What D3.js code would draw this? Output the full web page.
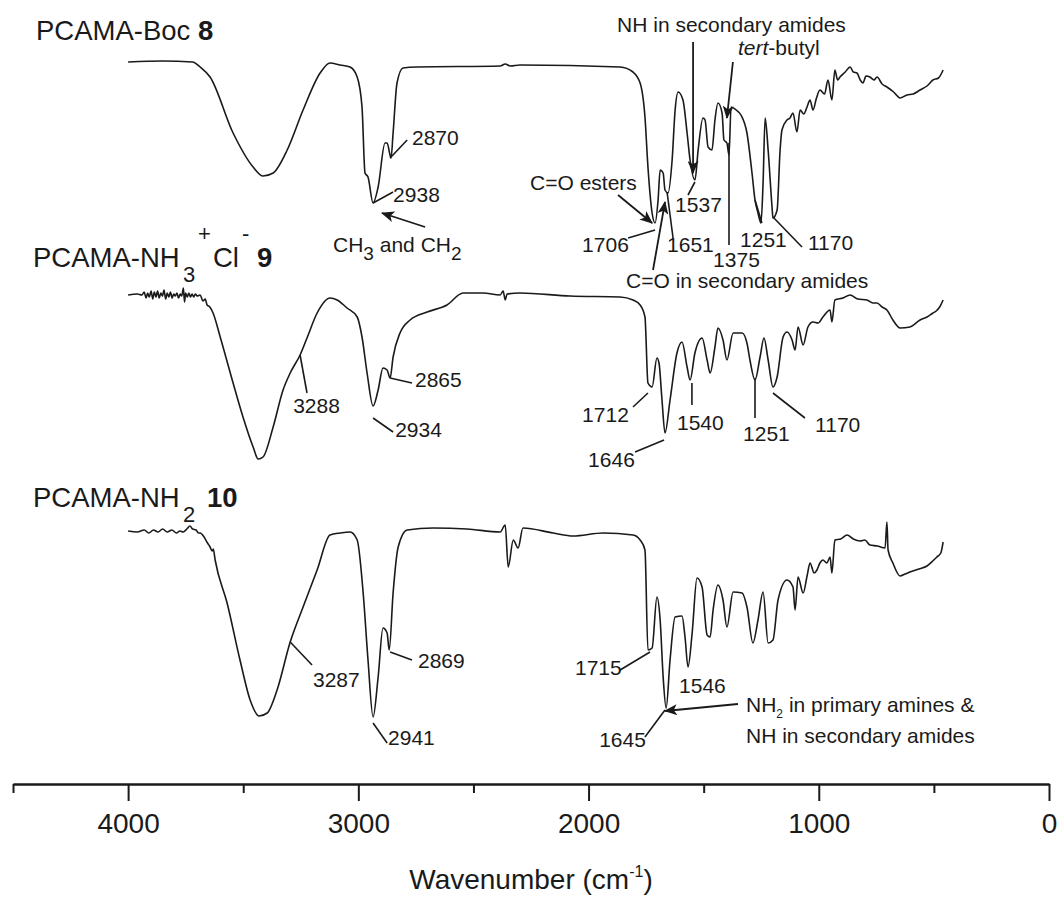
<!DOCTYPE html>
<html>
<head>
<meta charset="utf-8">
<script src="https://cdnjs.cloudflare.com/ajax/libs/d3/7.8.5/d3.min.js"></script>
<style>
  body { margin: 0; background: #fff; }
  text { font-family: "Liberation Sans", Arial, sans-serif; fill: #1a1a1a; }
</style>
</head>
<body>
<div id="chart"></div>
<script>
'use strict';

// spectra: [wavenumber (cm-1), transmittance (a.u.)]
const bocSpectrum = [
  [4000,89],[3850,89.5],[3720,89],[3687,86.5],[3644,81.5],[3544,53.5],[3457,36.5],[3414,32],
  [3370,33.5],[3309,45],[3240,65],[3166,83.5],[3123,88.5],[3079,87.5],[3036,86.5],[3005,81.5],
  [2984,66.5],[2971,33.5],[2958,31.5],[2936,18.5],[2914,26.5],[2884,48.5],[2875,48.5],[2858,41],
  [2849,53.5],[2832,78.5],[2806,86],[2745,86.5],[2384,87],[2362,88],[2340,87],[2298,87.5],
  [1863,86.5],[1807,84],[1776,78.5],[1755,61.5],[1742,36.5],[1724,13.5],[1711,8.5],[1698,20],
  [1689,35],[1676,33.5],[1668,25],[1655,23.5],[1637,40],[1624,65],[1611,74],[1590,70],
  [1572,53.5],[1559,40],[1538,30],[1524,45],[1503,61],[1494,60],[1481,46.5],[1464,45],
  [1451,60],[1438,68.5],[1420,63.5],[1412,50],[1399,48.5],[1390,42.5],[1381,66.5],[1359,65],
  [1338,62.5],[1312,53.5],[1290,33.5],[1277,20],[1264,13.5],[1251,8.5],[1242,28.5],[1233,61],
  [1220,45],[1203,16.5],[1199,11],[1181,15],[1168,45],[1160,55],[1138,60],[1125,61],[1112,63.5],
  [1095,54],[1081,65],[1065,63],[1051,66.5],[1038,70],[1025,65],[1010,71],[995,75],[975,73],
  [960,80],[943,70],[930,85],[918,80],[908,81.5],[885,84],[864,86.5],[850,84],[834,83.5],
  [820,80],[808,78.5],[795,82],[778,81.5],[760,80],[747,81.5],[725,78],[704,76.5],[675,74],
  [647,71],[617,72.5],[590,73],[560,75],[530,77],[504,80],[480,81],[460,85]
];

const nh3Spectrum = [
  [4000,90],[3960,90.5],[3940,90],[3930,91.5],[3922,88.5],[3915,91],[3908,89],[3900,92],
  [3893,88],[3886,91.5],[3879,89],[3872,92],[3865,88.5],[3858,91],[3851,89.5],[3844,92.5],
  [3837,88],[3830,91],[3823,89],[3816,91.5],[3809,88.5],[3802,90.5],[3795,89.5],[3788,91],
  [3781,88.5],[3774,90.5],[3767,89.5],[3760,93.5],[3755,86.5],[3750,91],[3743,89],[3736,91],
  [3729,89],[3722,90.5],[3715,89],[3708,90.5],[3700,89.5],[3687,90],[3675,87],[3665,88],
  [3657,85],[3645,84],[3631,81],[3600,69],
  [3544,46],[3501,29],[3457,14],[3435,8],[3414,9],[3370,24],[3327,42.5],[3296,51],[3253,60],
  [3223,68.5],[3179,81],[3123,88.5],[3092,87.5],[3049,83.5],[3005,79],[2984,69],[2962,51],
  [2936,34.5],[2914,42.5],[2893,53.5],[2875,52.5],[2862,48.5],[2849,59],[2819,71],[2775,77.5],
  [2701,81.5],[2615,85],[2545,91],[2458,91],[2384,90],[2371,92],[2362,87.5],[2354,90.5],
  [2298,91],[2080,89.5],[1863,89],[1807,87.5],[1776,85],[1755,79],[1742,46],[1724,44],
  [1703,58.5],[1694,56],[1681,37.5],[1668,21],[1646,37.5],[1616,61],[1594,66.5],[1572,54],
  [1559,47.5],[1538,61],[1507,68.5],[1485,57.5],[1472,51],[1451,64],[1438,73.5],[1416,67.5],
  [1399,57.5],[1372,71],[1333,71],[1312,66],[1299,57.5],[1277,47.5],[1255,59],[1238,68.5],
  [1220,57.5],[1199,44],[1181,49],[1155,69],[1138,71.5],[1116,67.5],[1103,62.5],[1090,74],
  [1068,65],[1047,74],[1025,76.5],[1003,76],[982,79],[951,82.5],[943,76.5],[930,87.5],
  [895,88.5],[864,90],[830,88],[791,87.5],[765,86],[747,86],[725,84],[704,82.5],[678,77.5],
  [647,73.5],[604,74],[560,77.5],[530,79],[504,81],[490,82],[475,84],[460,87.5]
];

const nh2Spectrum = [
  [4000,102],[3960,101.5],[3930,102.5],[3910,101],[3890,102.5],[3870,101.5],[3850,103],
  [3830,101.5],[3810,102.5],[3790,101],[3775,102],[3761,101.5],[3745,103],[3731,104.5],
  [3720,103],[3705,102.5],[3695,101],[3687,101],[3670,99],[3655,96],[3644,94],[3635,92],
  [3630,93],[3622,87.5],[3570,66],[3514,37.5],[3470,17.5],[3431,9.5],[3396,11],[3353,22.5],
  [3296,46.5],[3240,64],[3179,82.5],[3123,100],[3079,101],[3036,101.5],[3005,97.5],[2979,71],
  [2958,37.5],[2936,9],[2914,29],[2893,53.5],[2875,51],[2866,42.5],[2849,71],[2827,94],
  [2788,102.5],[2675,103.5],[2528,103],[2384,101.5],[2362,105],[2349,84],[2327,97.5],
  [2306,93.5],[2285,103.5],[2154,101],[2067,99.5],[1937,101],[1807,100],[1776,97.5],
  [1755,92.5],[1742,42.5],[1724,43.5],[1703,69],[1689,57.5],[1676,29],[1663,13.5],[1646,37.5],
  [1624,59],[1594,59.5],[1581,49],[1568,34],[1550,51],[1529,78.5],[1507,74],[1485,50],
  [1472,49],[1459,62.5],[1438,75],[1416,67.5],[1399,54],[1372,71.5],[1333,71],[1312,64],
  [1286,46],[1264,57.5],[1242,71.5],[1220,46],[1199,47.5],[1177,67.5],[1138,77.5],[1112,74],
  [1103,62.5],[1090,79],[1068,71],[1050,80],[1038,86],[1020,81],[1008,82.5],[995,86],[982,87.5],
  [965,86],[951,89],[943,81],[930,97.5],[905,98],[877,100],[850,98],[820,97],[800,97.5],
  [778,95],[745,94.5],[712,93.5],[704,106.5],[699,92.5],[678,86],[647,79.5],[625,80.5],
  [604,81.5],[565,83],[530,84.5],[505,87],[487,89],[470,91],[460,96.5]
];

// peak labels: text start [wn, T], leader line [[wn, T], [wn, T]]
const bocLabels = [
  { text: '2870', at: [2767, 47.5], line: [[2862, 41], [2788, 50]] },
  { text: '2938', at: [2849, 19], line: [[2936, 18.5], [2849, 24]] },
  { text: '1706', at: [2028, -6], line: [[1828, 1], [1711, 5]] },
  { text: '1651', at: [1659, -6], line: [[1633, 1], [1659, 24]] },
  { text: '1537', at: [1624, 14], line: [[1568, 22.5], [1538, 29]] },
  { text: '1375', at: [1459, -13.5], line: [[1390, -2.5], [1390, 48.5]] },
  { text: '1251', at: [1342, -3.5], line: [[1247, 8.5], [1277, 20]] },
  { text: '1170', at: [1047, -5], line: [[1073, -3.5], [1199, 11.5]] }
];
// arrows: tail -> head
const bocArrows = [
  [[2710, 6.5], [2897, 13.5]],
  [[1872, 22.5], [1724, 8.5]],
  [[1720, -15], [1668, 19]],
  [[1546, 99], [1546, 33.5]],
  [[1373, 89], [1399, 61]]
];

const nh3Labels = [
  { text: '3288', at: [3283, 31], line: [[3253, 60], [3223, 41]] },
  { text: '2934', at: [2840, 19], line: [[2936, 28.5], [2849, 21.5]] },
  { text: '2865', at: [2754, 44], line: [[2862, 48.5], [2767, 46]] },
  { text: '1712', at: [2028, 26.5], line: [[1807, 34], [1742, 41]] },
  { text: '1646', at: [2002, 4], line: [[1798, 11.5], [1672, 17.5]] },
  { text: '1540', at: [1616, 22.5], line: [[1551, 46], [1551, 35]] },
  { text: '1251', at: [1329, 17], line: [[1277, 48.5], [1277, 28.5]] },
  { text: '1170', at: [1016, 21.5], line: [[1199, 41], [1060, 28.5]] }
];

const nh2Labels = [
  { text: '3287', at: [3197, 24], line: [[3296, 46.5], [3201, 35]] },
  { text: '2941', at: [2871, -5], line: [[2936, 6], [2875, -4]] },
  { text: '2869', at: [2741, 33.5], line: [[2862, 41.5], [2767, 37.5]] },
  { text: '1715', at: [2059, 30], line: [[1863, 32.5], [1733, 41.5]] },
  { text: '1645', at: [1954, -6], line: [[1755, -1], [1668, 12.5]] },
  { text: '1546', at: [1607, 21], line: null }
];
const nh2Arrows = [
  [[1351, 15.5], [1668, 12]]
];

const majorTicks = [4000, 3000, 2000, 1000, 0];
const minorTicks = [4500, 3500, 2500, 1500, 500];

const width = 1058;
const height = 897;

const svg = d3.select('#chart')
  .append('svg')
  .attr('width', width)
  .attr('height', height);

const ink = '#1a1a1a';

svg.append('defs')
  .append('marker')
  .attr('id', 'head')
  .attr('viewBox', '0 0 12 10')
  .attr('refX', 11)
  .attr('refY', 5)
  .attr('markerUnits', 'userSpaceOnUse')
  .attr('markerWidth', 14)
  .attr('markerHeight', 11)
  .attr('orient', 'auto')
  .append('path')
  .attr('d', 'M0,0 L12,5 L0,10 L3,5 Z')
  .attr('fill', ink);

const x = d3.scaleLinear().domain([4500, 0]).range([13, 1049]);

// one y scale per trace, same transmittance span
const traceBase = [240, 475, 735];
const yScales = traceBase.map(b => d3.scaleLinear().domain([0, 100]).range([b, b - 200]));

const line = (ys) => d3.line()
  .x(d => x(d[0]))
  .y(d => ys(d[1]))
  .curve(d3.curveMonotoneX);

const spectra = [bocSpectrum, nh3Spectrum, nh2Spectrum];
spectra.forEach((s, i) => {
  svg.append('path')
    .datum(s)
    .attr('d', line(yScales[i]))
    .attr('fill', 'none')
    .attr('stroke', ink)
    .attr('stroke-width', 1.6)
    .attr('stroke-linejoin', 'round');
});

function drawLabels(labels, ys) {
  const g = svg.append('g');
  labels.forEach(l => {
    if (l.line) {
      g.append('line')
        .attr('x1', x(l.line[0][0])).attr('y1', ys(l.line[0][1]))
        .attr('x2', x(l.line[1][0])).attr('y2', ys(l.line[1][1]))
        .attr('stroke', ink).attr('stroke-width', 1.6);
    }
    g.append('text')
      .attr('x', x(l.at[0]))
      .attr('y', ys(l.at[1]))
      .attr('font-size', 21)
      .text(l.text);
  });
}

function drawArrows(arrows, ys) {
  arrows.forEach(a => {
    svg.append('line')
      .attr('x1', x(a[0][0])).attr('y1', ys(a[0][1]))
      .attr('x2', x(a[1][0])).attr('y2', ys(a[1][1]))
      .attr('stroke', ink).attr('stroke-width', 1.8)
      .attr('marker-end', 'url(#head)');
  });
}

drawLabels(bocLabels, yScales[0]);
drawLabels(nh3Labels, yScales[1]);
drawLabels(nh2Labels, yScales[2]);
drawArrows(bocArrows, yScales[0]);
drawArrows(nh2Arrows, yScales[2]);

// group assignments
const y0 = yScales[0];
const ch = svg.append('text').attr('x', x(3110)).attr('y', y0(-6)).attr('font-size', 21);
ch.append('tspan').text('CH');
ch.append('tspan').attr('dy', 8).attr('font-size', 19).text('3');
ch.append('tspan').attr('dy', -8).text(' and CH');
ch.append('tspan').attr('dy', 8).attr('font-size', 19).text('2');

svg.append('text').attr('x', x(2254)).attr('y', y0(25)).attr('font-size', 21).text('C=O esters');
svg.append('text').attr('x', x(1837)).attr('y', y0(-24)).attr('font-size', 21).text('C=O in secondary amides');
svg.append('text').attr('x', x(1876)).attr('y', y0(104)).attr('font-size', 21).text('NH in secondary amides');
const tb = svg.append('text').attr('x', x(1351)).attr('y', y0(92.5)).attr('font-size', 21);
tb.append('tspan').attr('font-style', 'italic').text('tert');
tb.append('tspan').text('-butyl');

const y2 = yScales[2];
const nh2 = svg.append('text').attr('x', x(1316)).attr('y', y2(11.5)).attr('font-size', 21);
nh2.append('tspan').text('NH');
nh2.append('tspan').attr('dy', 6).attr('font-size', 12).text('2');
nh2.append('tspan').attr('dy', -6).text(' in primary amines &');
svg.append('text').attr('x', x(1316)).attr('y', y2(-4)).attr('font-size', 21).text('NH in secondary amides');

// trace titles
const t1 = svg.append('text').attr('x', 36).attr('y', 40).attr('font-size', 27.5);
t1.append('tspan').text('PCAMA-Boc ');
t1.append('tspan').attr('font-weight', 'bold').text('8');

const t2 = svg.append('g').attr('font-size', 27.5);
t2.append('text').attr('x', 33).attr('y', 267).text('PCAMA-NH');
t2.append('text').attr('x', 183).attr('y', 282).attr('font-size', 22).text('3');
t2.append('text').attr('x', 198).attr('y', 241).attr('font-size', 22).text('+');
t2.append('text').attr('x', 213).attr('y', 267).text('Cl');
t2.append('text').attr('x', 242).attr('y', 241).attr('font-size', 22).text('-');
t2.append('text').attr('x', 257).attr('y', 267).attr('font-weight', 'bold').text('9');

const t3 = svg.append('g').attr('font-size', 27.5);
t3.append('text').attr('x', 33).attr('y', 507).text('PCAMA-NH');
t3.append('text').attr('x', 183).attr('y', 522).attr('font-size', 22).text('2');
t3.append('text').attr('x', 207).attr('y', 507).attr('font-weight', 'bold').text('10');

// x axis
const axisY = 784;
const minorAxis = svg.append('g')
  .attr('transform', 'translate(0,' + axisY + ')')
  .call(d3.axisBottom(x).tickValues(minorTicks).tickSize(9).tickSizeOuter(0).tickFormat(''));

const majorAxis = svg.append('g')
  .attr('transform', 'translate(0,' + axisY + ')')
  .call(d3.axisBottom(x).tickValues(majorTicks).tickSize(17).tickSizeOuter(0)
    .tickPadding(12).tickFormat(d3.format('d')));

[minorAxis, majorAxis].forEach(a => {
  a.selectAll('path, line').attr('stroke', ink).attr('stroke-width', 2);
});
majorAxis.selectAll('text')
  .attr('font-size', 28)
  .attr('font-family', '"Liberation Sans", Arial, sans-serif')
  .attr('fill', ink);

const xt = svg.append('text')
  .attr('x', (x.range()[0] + x.range()[1]) / 2)
  .attr('y', 889)
  .attr('text-anchor', 'middle')
  .attr('font-size', 28);
xt.append('tspan').text('Wavenumber (cm');
xt.append('tspan').attr('dy', -12).attr('font-size', 16).text('-1');
xt.append('tspan').attr('dy', 12).text(')');
</script>
</body>
</html>
